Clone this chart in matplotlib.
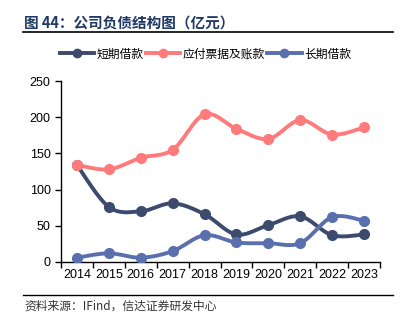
import numpy as np
import matplotlib
matplotlib.use("Agg")
import matplotlib.pyplot as plt
from matplotlib.lines import Line2D

plt.rcParams['font.family'] = ['Noto Sans CJK SC', 'DejaVu Sans']

years = ['2014', '2015', '2016', '2017', '2018', '2019', '2020', '2021', '2022', '2023']
short_loans = [134, 76, 70, 81, 66, 38, 51, 63, 37, 38]
payables = [134, 128, 144, 155, 204, 184, 170, 196, 176, 186]
long_loans = [6, 12, 6, 15, 37, 27, 26, 26, 62, 57]

names = ['短期借款', '应付票据及账款', '长期借款']
colors = ['#3C4A6E', '#FF7B7B', '#5A6FAE']
series = [short_loans, payables, long_loans]
yticks = [0, 50, 100, 150, 200, 250]


def smooth(xs, ys, n=20):
    xs = np.asarray(xs, float)
    ys = np.asarray(ys, float)
    px = np.concatenate([[xs[0]], xs, [xs[-1]]])
    py = np.concatenate([[ys[0]], ys, [ys[-1]]])
    ox, oy = [], []
    for i in range(1, len(px) - 2):
        p0 = np.array([px[i - 1], py[i - 1]])
        p1 = np.array([px[i], py[i]])
        p2 = np.array([px[i + 1], py[i + 1]])
        p3 = np.array([px[i + 2], py[i + 2]])
        c1 = p1 + (p2 - p0) / 6.0
        c2 = p2 - (p3 - p1) / 6.0
        t = np.linspace(0, 1, n)[:, None]
        b = ((1 - t) ** 3) * p1 + 3 * ((1 - t) ** 2) * t * c1 + 3 * (1 - t) * t ** 2 * c2 + t ** 3 * p2
        ox.extend(b[:, 0]); oy.extend(b[:, 1])
    return ox, oy


fig = plt.figure(figsize=(4.11, 3.34), dpi=100)
ax = fig.add_axes([61 / 411, 1 - 262 / 334, (380 - 61) / 411, (262 - 81) / 334])

x = np.arange(len(years))
handles = []
for name, c, vals in zip(names, colors, series):
    sx, sy = smooth(x, vals)
    ax.plot(sx, sy, color=c, lw=2.8, solid_capstyle='round', zorder=3)
    ax.plot(x, vals, 'o', color=c, ms=7, zorder=4)
    handles.append(Line2D([], [], color=c, lw=2.8, marker='o', ms=6))

ax.set_xlim(-0.5, len(years) - 0.5)
ax.set_ylim(0, 250)
ax.set_yticks(yticks)
ax.set_xticks(x)
ax.set_xticklabels(years)
ax.set_xticks(np.arange(-0.5, len(years)), minor=True)
ax.tick_params(axis='x', which='major', length=0, labelsize=9, pad=5, colors='#000000')
ax.tick_params(axis='x', which='minor', length=4, direction='out', width=1)
ax.tick_params(axis='y', length=4, direction='out', labelsize=9, width=1)
for lab in ax.get_xticklabels() + ax.get_yticklabels():
    lab.set_family(['Liberation Sans', 'DejaVu Sans'])
for s in ['top', 'right']:
    ax.spines[s].set_visible(False)
for s in ['left', 'bottom']:
    ax.spines[s].set_color('#000000')
    ax.spines[s].set_linewidth(1.0)

fig.legend(handles, names, loc='center', bbox_to_anchor=(0.5, 1 - 54 / 334), ncol=3,
           frameon=False, fontsize=8.5, handlelength=2.9, columnspacing=0.2, handletextpad=0.2)

fig.text(24 / 411, 1 - 23 / 334, '图 44：公司负债结构图（亿元）', fontsize=10.5, fontweight='bold',
         color='#1F3864', va='center', ha='left')
fig.add_artist(Line2D([23 / 411, 393 / 411], [1 - 32 / 334, 1 - 32 / 334], color='black', lw=1.2))
fig.add_artist(Line2D([23 / 411, 393 / 411], [1 - 295 / 334, 1 - 295 / 334], color='black', lw=1.0))
fig.text(24 / 411, 1 - 306 / 334, '资料来源：IFind，信达证券研发中心', fontsize=8.5, style='italic',
         color='#333333', va='center', ha='left')

fig.savefig('out.png', dpi=100)
